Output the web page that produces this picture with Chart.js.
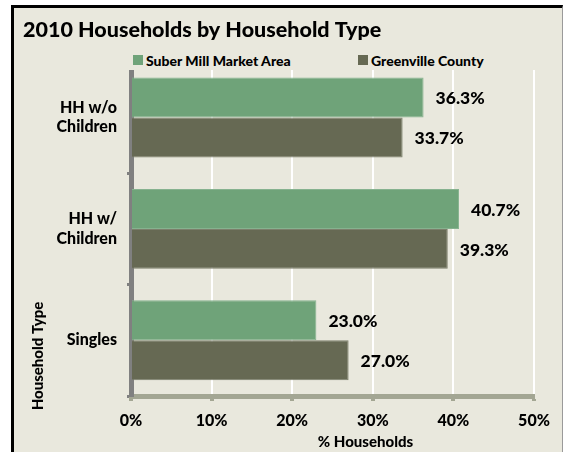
<!DOCTYPE html>
<html>
<head>
<meta charset="utf-8">
<script src="https://cdn.jsdelivr.net/npm/chart.js@4/dist/chart.umd.min.js"></script>
<style>
  body { margin: 0; background: #fff; overflow: hidden; font-family: Lato, sans-serif; }
  #frame {
    position: absolute; left: 11px; top: 5px; width: 548px; height: 460px;
    border-left: 3px solid #000; border-top: 3px solid #000; border-right: 1px solid #9a9a9a;
    background: #e9e8dd;
  }
  #chart { position: absolute; left: 0; top: 0; }
  #legend {
    position: absolute; left: 106px; top: 42px; width: 420px; height: 20px;
    background: #e9e8dd; display: flex; align-items: center; padding-left: 13px;
    font: 900 14px Lato, sans-serif; color: #000;
  }
  #legend .item { display: flex; align-items: center; }
  #legend .item:first-child { width: 225px; }
  #legend i { display: inline-block; width: 10px; height: 10px; margin-right: 3px; }
</style>
</head>
<body>
<div id="frame">
  <canvas id="chart" width="548" height="444"></canvas>
  <div id="legend"></div>
</div>
<script>
const categories = [["HH w/o", "Children"], ["HH w/", "Children"], "Singles"];
const suberMill = [36.3, 40.7, 23.0];
const greenville = [33.7, 39.3, 27.0];
const seriesNames = ["Suber Mill Market Area", "Greenville County"];
const titleText = "2010 Households by Household Type";
const xTitle = "% Households";
const yTitle = "Household Type";

const FONT = "Lato, sans-serif";
const WEIGHT = "900";

// value labels just past the end of each bar
const barValues = {
  id: "barValues",
  afterDatasetsDraw(chart) {
    const { ctx } = chart;
    ctx.save();
    ctx.font = `${WEIGHT} 17.5px ${FONT}`;
    ctx.fillStyle = "#000";
    ctx.textAlign = "left";
    ctx.textBaseline = "middle";
    chart.data.datasets.forEach((ds, i) => {
      chart.getDatasetMeta(i).data.forEach((bar, j) => {
        ctx.fillText(ds.data[j].toFixed(1) + "%", bar.x + 12, bar.y + 1);
      });
    });
    ctx.restore();
  },
};

// axis titles sit off-centre, as in the original workbook
const axisTitles = {
  id: "axisTitles",
  afterDraw(chart) {
    const { ctx, chartArea: a } = chart;
    ctx.save();
    ctx.font = `${WEIGHT} 15px ${FONT}`;
    ctx.fillStyle = "#000";
    ctx.textAlign = "center";
    ctx.textBaseline = "middle";
    ctx.fillText(xTitle, (a.left + a.right) / 2 + 33, a.bottom + 46);
    ctx.translate(24, a.bottom - 40);
    ctx.rotate(-Math.PI / 2);
    ctx.fillText(yTitle, 0, 0);
    ctx.restore();
  },
};

// legend rendered as html so it can sit over the top of the plot
const htmlLegend = {
  id: "htmlLegend",
  afterUpdate(chart) {
    const box = document.getElementById("legend");
    box.innerHTML = "";
    chart.options.plugins.legend.labels.generateLabels(chart).forEach((item) => {
      const span = document.createElement("span");
      span.className = "item";
      const sw = document.createElement("i");
      sw.style.background = item.fillStyle;
      span.appendChild(sw);
      span.appendChild(document.createTextNode(item.text));
      box.appendChild(span);
    });
  },
};

new Chart(document.getElementById("chart"), {
  type: "bar",
  data: {
    labels: categories,
    datasets: [
      {
        label: seriesNames[0],
        data: suberMill,
        backgroundColor: "#6fa379",
        borderColor: "#86b28f",
        borderWidth: 1,
        borderSkipped: "start",
      },
      {
        label: seriesNames[1],
        data: greenville,
        backgroundColor: "#666953",
        borderColor: "#7c7f6b",
        borderWidth: 1,
        borderSkipped: "start",
      },
    ],
  },
  options: {
    indexAxis: "y",
    responsive: false,
    animation: false,
    events: [],
    datasets: {
      bar: { barPercentage: 1, categoryPercentage: 0.717 },
    },
    layout: { padding: { left: 9, right: 28, top: 0, bottom: 0 } },
    plugins: {
      legend: { display: false },
      tooltip: { enabled: false },
      title: {
        display: true,
        text: titleText,
        align: "start",
        color: "#000",
        font: { family: FONT, size: 21.5, weight: WEIGHT },
        padding: { top: 9, bottom: 19 },
      },
    },
    scales: {
      x: {
        min: 0,
        max: 50,
        ticks: {
          stepSize: 10,
          color: "#000",
          padding: 10,
          font: { family: FONT, size: 16, weight: WEIGHT },
          callback: (v) => v + "%",
        },
        grid: {
          color: "#ffffff",
          lineWidth: 2,
          tickColor: "#a3a693",
          tickWidth: 4,
          tickLength: 5,
        },
        border: { color: "#a3a693", width: 5 },
        afterFit: (scale) => { scale.height = 56; },
      },
      y: {
        z: 1,
        ticks: {
          color: "#000",
          padding: 10,
          font: { family: FONT, size: 16, weight: WEIGHT },
        },
        grid: {
          drawOnChartArea: false,
          tickColor: "#808080",
          tickWidth: 3,
          tickLength: 4,
        },
        border: { color: "#808080", width: 5 },
        afterFit: (scale) => { scale.width = 108; },
      },
    },
  },
  plugins: [barValues, axisTitles, htmlLegend],
});
</script>
</body>
</html>
